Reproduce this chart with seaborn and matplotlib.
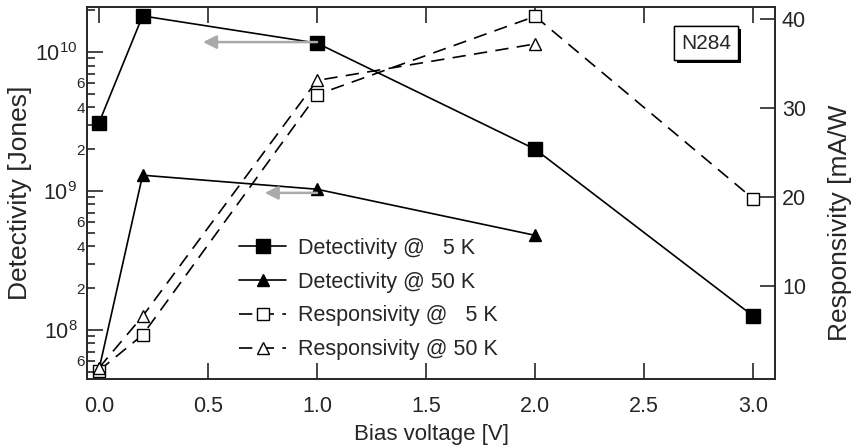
import math
import matplotlib
matplotlib.use("Agg")
import matplotlib.pyplot as plt
import matplotlib.ticker as mticker
import matplotlib.patheffects as pe
import seaborn as sns
import pandas as pd

# ---- data ----
bias_5k = [0.0, 0.2, 1.0, 2.0, 3.0]
bias_50k = [0.0, 0.2, 1.0, 2.0]
detectivity_5k = [3.1e9, 1.82e10, 1.16e10, 2.0e9, 1.26e8]
detectivity_50k = [5.2e7, 1.3e9, 1.03e9, 4.8e8]
responsivity_5k = [0.5, 4.5, 31.5, 40.3, 19.8]
responsivity_50k = [0.8, 6.6, 33.1, 37.2]
labels = ["Detectivity @   5 K", "Detectivity @ 50 K",
          "Responsivity @   5 K", "Responsivity @ 50 K"]
x_ticks = [0.0, 0.5, 1.0, 1.5, 2.0, 2.5, 3.0]
right_ticks = [10, 20, 30, 40]
sample_name = "N284"

sns.set_style("ticks")
plt.rcParams["font.family"] = ["Liberation Sans", "DejaVu Sans"]
plt.rcParams["mathtext.default"] = "regular"
plt.rcParams["axes.linewidth"] = 1.2

FS = 15.5
fig = plt.figure(figsize=(8.58, 4.46), dpi=100)
ax = fig.add_axes([87 / 858, 67 / 446, 688 / 858, 372 / 446])
ax2 = ax.twinx()

d5 = pd.DataFrame({"x": bias_5k, "det": detectivity_5k, "resp": responsivity_5k})
d50 = pd.DataFrame({"x": bias_50k, "det": detectivity_50k, "resp": responsivity_50k})

common = dict(color="black", lw=1.2, markeredgecolor="black", markeredgewidth=1.0,
              legend=False, sort=False, estimator=None)
sns.lineplot(data=d5, x="x", y="det", ax=ax, marker="s", markersize=10, **common)
sns.lineplot(data=d50, x="x", y="det", ax=ax, marker="^", markersize=9, **common)
sns.lineplot(data=d5, x="x", y="resp", ax=ax2, marker="s", markersize=9,
             markerfacecolor="white", **common)
sns.lineplot(data=d50, x="x", y="resp", ax=ax2, marker="^", markersize=9,
             markerfacecolor="white", **common)
for ln in ax2.get_lines():
    ln.set_linestyle((0, (8, 5)))

ax.set_yscale("log")
ax.set_xlim(-0.055, 3.10)
ax.set_ylim(4.44e7, 2.11e10)
ax2.set_ylim(-0.45, 41.35)

ax.set_xticks(x_ticks)
ax.xaxis.set_major_formatter(mticker.FormatStrFormatter("%.1f"))
ax.yaxis.set_major_locator(mticker.LogLocator(base=10, subs=[1.0]))
ax.yaxis.set_minor_locator(mticker.LogLocator(base=10, subs=[2, 3, 4, 5, 6, 7, 8, 9]))
ax.yaxis.set_major_formatter(mticker.FuncFormatter(
    lambda v, p: r"$10^{%d}$" % round(math.log10(v))))


def minor_fmt(v, p):
    if v > 1.5e10:
        return ""
    m = round(v / 10 ** math.floor(math.log10(v) + 1e-9))
    return str(m) if m in (2, 4, 6) else ""


ax.yaxis.set_minor_formatter(mticker.FuncFormatter(minor_fmt))
ax2.set_yticks(right_ticks)

ax.tick_params(axis="x", which="major", direction="in", length=11.5, width=1.2,
               top=True, labelsize=FS, pad=12)
ax.tick_params(axis="y", which="major", direction="in", length=11.5, width=1.2,
               labelsize=FS, pad=7, right=False)
ax.tick_params(axis="y", which="minor", direction="in", length=5.8, width=1.2,
               labelsize=11, pad=1.5, right=False)
ax2.tick_params(axis="y", which="major", direction="in", length=11, width=1.2,
                labelsize=FS, pad=5)

ax.set_xlabel("Bias voltage [V]", fontsize=16, labelpad=5)
ax.set_ylabel("Detectivity [Jones]", fontsize=19, labelpad=2)
ax2.set_ylabel("Responsivity [mA/W", fontsize=19, rotation=90, va="center")
ax2.yaxis.set_label_coords(1.095, 0.42)

# gray arrows pointing to the left axis
arrow = dict(arrowstyle="-|>", color="#aaaaaa", lw=1.8, mutation_scale=20,
             shrinkA=0, shrinkB=0)
ax.annotate("", xy=(0.477, 1.18e10), xytext=(1.0, 1.18e10), arrowprops=arrow)
ax.annotate("", xy=(0.76, 9.7e8), xytext=(1.0, 9.7e8), arrowprops=arrow)

t = ax2.text(0.90, 0.903, sample_name, transform=ax2.transAxes, ha="center",
             va="center", fontsize=15,
             bbox=dict(boxstyle="square,pad=0.35", fc="white", ec="black", lw=1.0))
t.get_bbox_patch().set_path_effects(
    [pe.withSimplePatchShadow(offset=(2, -2), shadow_rgbFace="black", alpha=1.0),
     pe.Normal()])

handles = ax.get_lines()[:2] + ax2.get_lines()[:2]
ax2.legend(handles, labels, loc="center left", bbox_to_anchor=(0.221, 0.215),
           frameon=False, fontsize=FS, handlelength=2.2, handletextpad=0.55,
           labelspacing=0.6, borderpad=0, borderaxespad=0)

for a in (ax, ax2):
    for s in a.spines.values():
        s.set_linewidth(1.2)

fig.savefig("out.png", dpi=100)
